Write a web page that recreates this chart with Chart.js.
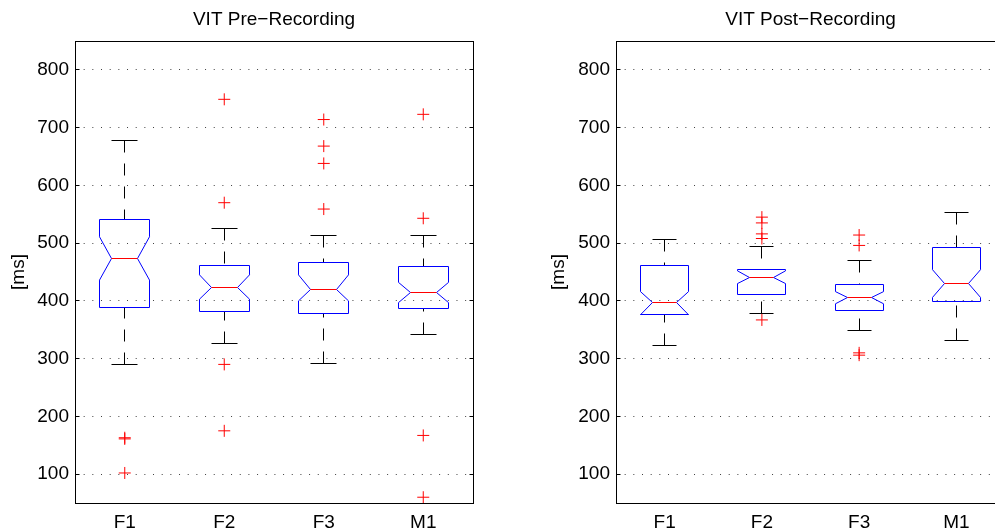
<!DOCTYPE html>
<html>
<head>
<meta charset="utf-8">
<script src="https://cdn.jsdelivr.net/npm/chart.js@4.4.1/dist/chart.umd.min.js"></script>
<style>
  html, body { margin: 0; padding: 0; background: #fff; }
  #wrap { position: relative; width: 995px; height: 530px; overflow: hidden; }
  #preChart { position: absolute; left: 0; top: 0; }
  #postChart { position: absolute; left: 500px; top: 0; }
</style>
</head>
<body>
<div id="wrap">
  <canvas id="preChart" width="500" height="530"></canvas>
  <canvas id="postChart" width="530" height="530"></canvas>
</div>
<script>
// categories + tick values
var categories = ["F1", "F2", "F3", "M1"];
var yTicks = [100, 200, 300, 400, 500, 600, 700, 800];

// VIT pre-recording (ms)
var preQ1 = [388, 382, 379, 386];
var preMedian = [474, 423, 420, 415];
var preQ3 = [541, 462, 466, 460];
var preNotchLo = [436, 403, 400, 397];
var preNotchHi = [511, 445, 445, 432];
var preWhiskerLo = [290, 327, 292, 342];
var preWhiskerHi = [677, 525, 513, 514];
var preOutliers = [[163, 161, 102], [749, 570, 290, 175], [714, 668, 638, 559], [723, 543, 167, 60]];

// VIT post-recording (ms)
var postQ1 = [376, 411, 384, 399];
var postMedian = [397, 441, 406, 430];
var postQ3 = [462, 454, 429, 492];
var postNotchLo = [376, 430, 395, 406];
var postNotchHi = [416, 452, 416, 454];
var postWhiskerLo = [323, 379, 349, 332];
var postWhiskerHi = [506, 494, 470, 553];
var postOutliers = [[], [545, 535, 516, 508, 367], [514, 496, 310, 306], []];

Chart.defaults.font.family = "'Liberation Sans', Arial, Helvetica, sans-serif";
Chart.defaults.color = "#000";

function crisp(v) { return Math.round(v - 0.5) + 0.5; }

// draws the notched boxes from the box arrays through the chart scales
var notchBoxPlugin = {
    id: "notchBox",
    beforeDatasetsDraw: function(chart, args, opts) {
        var ctx = chart.ctx, xs = chart.scales.x, ys = chart.scales.y;
        ctx.save();
        ctx.lineWidth = 1;
        for (var i = 0; i < opts.median.length; i++) {
            var xc = crisp(xs.getPixelForValue(i + 1));
            var hw = Math.round(xs.getPixelForValue(i + 1.25) - xs.getPixelForValue(i + 1));
            var nw = Math.round(hw / 2);
            var q1 = crisp(ys.getPixelForValue(opts.q1[i]));
            var q3 = crisp(ys.getPixelForValue(opts.q3[i]));
            var med = crisp(ys.getPixelForValue(opts.median[i]));
            var nLo = ys.getPixelForValue(opts.notchLo[i]);
            var nHi = ys.getPixelForValue(opts.notchHi[i]);
            var wLo = crisp(ys.getPixelForValue(opts.whiskerLo[i]));
            var wHi = crisp(ys.getPixelForValue(opts.whiskerHi[i]));

            // whiskers
            ctx.strokeStyle = "#000";
            ctx.setLineDash([12, 11]);
            ctx.beginPath();
            ctx.moveTo(xc, wHi); ctx.lineTo(xc, q3);
            ctx.moveTo(xc, wLo); ctx.lineTo(xc, q1);
            ctx.stroke();
            ctx.setLineDash([]);
            ctx.beginPath();
            ctx.moveTo(xc - nw, wHi); ctx.lineTo(xc + nw, wHi);
            ctx.moveTo(xc - nw, wLo); ctx.lineTo(xc + nw, wLo);
            ctx.stroke();

            // notched box
            ctx.strokeStyle = "#0000ff";
            ctx.beginPath();
            ctx.moveTo(xc - hw, q3);
            ctx.lineTo(xc + hw, q3);
            ctx.lineTo(xc + hw, nHi);
            ctx.lineTo(xc + nw, med);
            ctx.lineTo(xc + hw, nLo);
            ctx.lineTo(xc + hw, q1);
            ctx.lineTo(xc - hw, q1);
            ctx.lineTo(xc - hw, nLo);
            ctx.lineTo(xc - nw, med);
            ctx.lineTo(xc - hw, nHi);
            ctx.closePath();
            ctx.stroke();

            // median
            ctx.strokeStyle = "#ff0000";
            ctx.beginPath();
            ctx.moveTo(xc - nw, med); ctx.lineTo(xc + nw, med);
            ctx.stroke();
        }
        ctx.restore();
    },
    afterDraw: function(chart) {
        // axes frame with small inside ticks
        var ctx = chart.ctx, a = chart.chartArea, ys = chart.scales.y;
        var l = crisp(a.left), r = crisp(a.right), t = crisp(a.top), b = crisp(a.bottom);
        ctx.save();
        ctx.strokeStyle = "#000";
        ctx.lineWidth = 1;
        ctx.strokeRect(l, t, r - l, b - t);
        ctx.beginPath();
        yTicks.forEach(function(v) {
            var y = crisp(ys.getPixelForValue(v));
            ctx.moveTo(l, y); ctx.lineTo(l + 4, y);
            ctx.moveTo(r, y); ctx.lineTo(r - 4, y);
        });
        ctx.stroke();
        ctx.restore();
    }
};

function outlierPoints(list) {
    var pts = [];
    list.forEach(function(vals, i) {
        vals.forEach(function(v) { pts.push({ x: i + 1, y: v }); });
    });
    return pts;
}

function makeChart(id, titleText, box, outliers, axisWidth, rightPad, labelPad) {
    var ctx = document.getElementById(id).getContext("2d");
    return new Chart(ctx, {
        type: "scatter",
        data: {
            datasets: [{
                data: outlierPoints(outliers),
                pointStyle: "cross",
                pointRadius: 6,
                pointHoverRadius: 6,
                borderColor: "#ff0000",
                backgroundColor: "#ff0000",
                borderWidth: 1
            }]
        },
        options: {
            responsive: false,
            animation: false,
            events: [],
            layout: { padding: { left: 0, right: rightPad, top: 0, bottom: 0 } },
            plugins: {
                legend: { display: false },
                tooltip: { enabled: false },
                title: {
                    display: true,
                    fullSize: false,
                    text: titleText,
                    font: { size: 19, weight: "normal" },
                    color: "#000",
                    padding: { top: 8.6, bottom: 9.6 }
                },
                notchBox: box
            },
            scales: {
                x: {
                    type: "linear",
                    min: 0.5,
                    max: 4.5,
                    afterBuildTicks: function(scale) {
                        scale.ticks = categories.map(function(c, i) { return { value: i + 1 }; });
                    },
                    afterFit: function(scale) { scale.height = 27; },
                    ticks: {
                        font: { size: 19 },
                        color: "#000",
                        padding: 8,
                        maxRotation: 0,
                        callback: function(v) { return categories[v - 1]; }
                    },
                    grid: { display: false, drawTicks: false },
                    border: { display: false }
                },
                y: {
                    type: "linear",
                    min: 50,
                    max: 850,
                    afterBuildTicks: function(scale) {
                        scale.ticks = yTicks.map(function(v) { return { value: v }; });
                    },
                    afterFit: function(scale) { scale.width = axisWidth; },
                    ticks: { font: { size: 19 }, color: "#000", padding: 6 },
                    grid: { color: "rgba(0,0,0,0.75)", lineWidth: 1, drawTicks: false },
                    border: { display: false, dash: [1, 7.67] },
                    title: {
                        display: true,
                        text: "[ms]",
                        font: { size: 19 },
                        color: "#000",
                        padding: { top: labelPad, bottom: 0 }
                    }
                }
            }
        },
        plugins: [notchBoxPlugin]
    });
}

document.addEventListener("DOMContentLoaded", function() {
    makeChart("preChart", "VIT Pre\u2212Recording", {
        q1: preQ1, median: preMedian, q3: preQ3,
        notchLo: preNotchLo, notchHi: preNotchHi,
        whiskerLo: preWhiskerLo, whiskerHi: preWhiskerHi
    }, preOutliers, 75, 27, 7.6);

    makeChart("postChart", "VIT Post\u2212Recording", {
        q1: postQ1, median: postMedian, q3: postQ3,
        notchLo: postNotchLo, notchHi: postNotchHi,
        whiskerLo: postWhiskerLo, whiskerHi: postWhiskerHi
    }, postOutliers, 116, 25, 47.6);
});
</script>
</body>
</html>
